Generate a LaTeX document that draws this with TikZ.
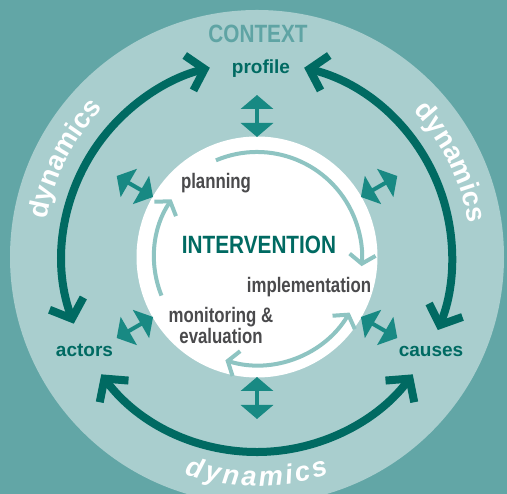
\documentclass[tikz,border=0pt]{standalone}
\usepackage{fontspec}
\setmainfont{Liberation Sans}
\newfontfamily\condfont[FakeStretch=0.83]{Liberation Sans}
\newfontfamily\narrowfont[FakeStretch=0.8]{Liberation Sans}
\usetikzlibrary{calc}
\usetikzlibrary{arrows.meta}
\usetikzlibrary{decorations.text}
\definecolor{bgteal}{HTML}{62A6A6}
\definecolor{ringteal}{HTML}{A9CECE}
\definecolor{darkteal}{HTML}{006A62}
\definecolor{midteal}{HTML}{188983}
\definecolor{cycleteal}{HTML}{8EC4C2}
\definecolor{contextteal}{HTML}{5FA4A4}
\definecolor{labelgray}{HTML}{4A4A4C}
\newcommand\dynfont{\bfseries\fontsize{27.5}{27.5}\selectfont}
\tikzset{
  dyntip/.tip={Straight Barb[length=16pt,width=36pt]},
  linktip/.tip={Triangle[length=14pt,width=32pt]},
  cycletip/.tip={Straight Barb[length=9pt,width=26pt]}
}

\begin{document}
\begin{tikzpicture}[x=1pt,y=1pt,
  dynarrow/.style={darkteal, line width=8pt, dyntip-dyntip},
  linkarrow/.style={midteal, line width=4pt, linktip-linktip},
  cyclearrow/.style={cycleteal, line width=4pt, -cycletip},
  contextlabel/.style={text=darkteal, font=\bfseries\fontsize{19}{19}\selectfont, inner sep=0pt, anchor=base},
  steplabel/.style={text=labelgray, font=\narrowfont\bfseries\fontsize{21}{21}\selectfont, inner sep=0pt},
  titlelabel/.style={font=\condfont\bfseries\fontsize{25}{25}\selectfont, inner sep=0pt, anchor=base},
  dyntext/.style={decorate, decoration={text along path, text={|\dynfont|dynamics}, text align=center, text color=white}}
]
\useasboundingbox (0,0) rectangle (507,494);
\clip (0,0) rectangle (507,494);
\coordinate (c) at (257,237);
\fill[bgteal] (0,0) rectangle (507,494);
\fill[ringteal] (c) circle[radius=247];
\fill[white] (c) circle[radius=120.5];

% context ring
\draw[dynarrow] ($(c)+(200:195)$) arc[start angle=200, end angle=104, radius=195];
\draw[dynarrow] ($(c)+(76:195)$) arc[start angle=76, end angle=-22, radius=195];
\draw[dynarrow] ($(c)+(217:195)$) arc[start angle=217, end angle=323, radius=195];

\path[dyntext] ($(c)+(183:214)$) arc[start angle=183, end angle=123, radius=214];
\path[dyntext] ($(c)+(56:214)$) arc[start angle=56, end angle=-4, radius=214];
\path[decorate, decoration={text effects along path, text={dynamics}, text align=center,
  text effects/.cd, text along path, characters={text=white, font=\itshape\dynfont, inner xsep=1.4pt},
  character widths={font=\itshape\dynfont, inner xsep=1.4pt}}]
  ($(c)+(248:229)$) arc[start angle=248, end angle=292, radius=229];

\foreach \a in {30,90,...,330}
  \draw[linkarrow] ($(c)+(\a:120)$) -- ($(c)+(\a:162)$);

% intervention cycle
\draw[cyclearrow] ($(c)+(113:105)$) arc[start angle=113, end angle=-5, radius=105];
\draw[cyclearrow, cycletip-cycletip] ($(c)+(-31:108)$) arc[start angle=-31, end angle=-107, radius=108];
\draw[cyclearrow] ($(c)+(202:103)$) arc[start angle=202, end angle=146, radius=103];

\node[titlelabel, text=contextteal] (context) at (258,451) {CONTEXT};
\node[contextlabel] (profile) at (261,420) {profile};
\node[contextlabel] (actors) at (84.5,137) {actors};
\node[contextlabel] (causes) at (431,137) {causes};
\node[titlelabel, text=darkteal] (intervention) at (259,240) {INTERVENTION};
\node[steplabel, anchor=base] (planning) at (216,305) {planning};
\node[steplabel, anchor=base] (implementation) at (309,201) {implementation};
\node[steplabel, anchor=north, align=center] (monitoring) at (221,187) {monitoring \&\\evaluation};
\end{tikzpicture}
\end{document}
